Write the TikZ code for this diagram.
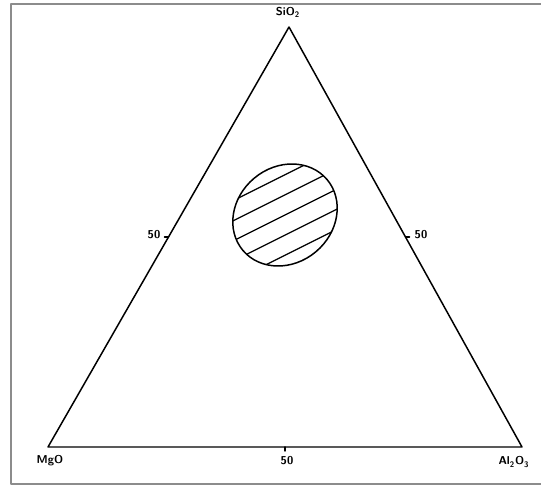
\documentclass[tikz,border=0pt]{standalone}
\usepackage{tikz}
\usetikzlibrary{calc}
\definecolor{framegray}{HTML}{8C8C8C}
\tikzset{
  every picture/.style={line join=round, line cap=round},
  edge/.style={line width=0.85pt},
  hatch/.style={line width=0.75pt},
  oxide/.style={font=\sffamily\bfseries\fontsize{6.5}{7}\selectfont, inner sep=0pt},
}

\begin{document}
\begin{tikzpicture}[x=0.02cm,y=-0.02cm]
\useasboundingbox (0,0) rectangle (541,486);
% frame
\draw[framegray,line width=1.1pt] (541,4) -- (11,4) -- (11,484) -- (541,484);
% triangle
\coordinate (apex) at (289,27);
\coordinate (mg) at (48,447);
\coordinate (al) at (522,447);
\draw[edge] (apex) -- (mg) -- (al) -- cycle;
% 50 per cent ticks
\draw[edge] (168.5,237) -- ++(-4,0);
\draw[edge] (405.5,237) -- ++(4,0);
\draw[edge] (285,447) -- ++(0,4);
% hatched field
\begin{scope}
\clip[rotate around={40:(285,215)}] (285,215) ellipse [x radius=55, y radius=48];
\foreach \k in {-2,...,2}
  \draw[hatch] ($(285,215)+(8.05*\k,16.1*\k)+(-90,45)$) -- ++(180,-90);
\end{scope}
\draw[edge,rotate around={40:(285,215)}] (285,215) ellipse [x radius=55, y radius=48];
% labels
\node[oxide] (sio) at (288,12) {SiO\textsubscript{2}};
\node[oxide] (mgo) at (50,461) {MgO};
\node[oxide] (alo) at (514,462) {Al\textsubscript{2}O\textsubscript{3}};
\node[oxide] (half left) at (154,235) {50};
\node[oxide] (half right) at (421,235) {50};
\node[oxide] (half base) at (287,461) {50};
\end{tikzpicture}
\end{document}
